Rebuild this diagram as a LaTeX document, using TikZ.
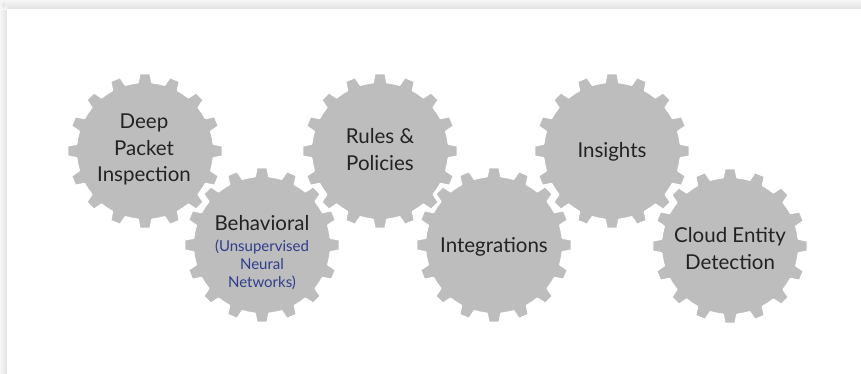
\documentclass[tikz,border=0pt]{standalone}
\usepackage{fontspec}
\setmainfont{Lato}
\definecolor{gearfill}{HTML}{BDBDBD}
\definecolor{txt}{HTML}{222222}
\definecolor{subblue}{HTML}{2F3D8C}
\definecolor{bgout}{HTML}{F6F6F6}
\definecolor{shadow}{HTML}{E2E2E2}
\newcommand\mygear[2]{%
  \filldraw[gearstyle,shift={(#1,#2)}] (96:69pt)
    \foreach \k in {0,...,15}{
      arc[start angle={96+22.5*\k}, end angle={106.5+22.5*\k}, radius=69pt]
      -- ({108.5+22.5*\k}:78pt) -- ({116.5+22.5*\k}:78pt) -- ({118.5+22.5*\k}:69pt)
    } -- cycle;}
\tikzset{
  gearstyle/.style={fill=gearfill, draw=white, line width=2.2pt, line join=round},
  lbl/.style={font=\fontsize{20.5}{26.7}\selectfont, text=txt, align=center, inner sep=0pt, anchor=base},
  sublbl/.style={font=\fontsize{15}{18}\selectfont, text=subblue, align=center, inner sep=0pt, anchor=base}
}
\begin{document}
\begin{tikzpicture}[x=1pt,y=1pt]
\useasboundingbox (0,0) rectangle (861,-373);
% background and card shadow
\fill[bgout] (0,0) rectangle (861,-373);
\shade[left color=bgout, right color=shadow] (0,-9) rectangle (7,-373);
\shade[top color=bgout, bottom color=shadow] (7,0) rectangle (861,-9);
\shade[inner color=shadow, outer color=bgout] (0,0) rectangle (7,-9);
\fill[white] (7,-9) rectangle (861,-373);
% gears
\mygear{145}{-151}
\mygear{262}{-245}
\mygear{380}{-151}
\mygear{494}{-245}
\mygear{612}{-151}
\mygear{730}{-246}
% labels
\node[lbl] (t1) at (144,-181.7) {Deep\\Packet\\Inspection};
\node[lbl] (t2) at (262,-230) {Behavioral};
\node[sublbl] (t2s) at (262,-287) {(Unsupervised\\Neural\\Networks)};
\node[lbl] (t3) at (380,-170) {Rules \&\\Policies};
\node[lbl] (t4) at (494,-252.7) {Integrations};
\node[lbl] (t5) at (612,-157.7) {Insights};
\node[lbl] (t6) at (730,-269) {Cloud Entity\\Detection};
\end{tikzpicture}
\end{document}
